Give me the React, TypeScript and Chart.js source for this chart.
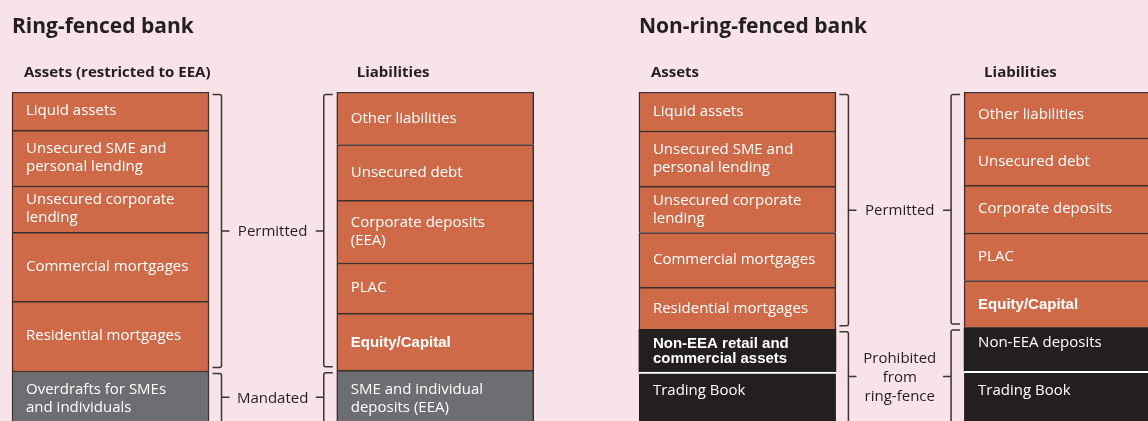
import React, { useEffect, useRef } from "react";
import { Chart, registerables } from "chart.js";

Chart.register(...registerables);

// ---------------- data ----------------
const bankTitles = ["Ring-fenced bank", "Non-ring-fenced bank"];
const columnHeaders = ["Assets (restricted to EEA)", "Liabilities", "Assets", "Liabilities"];

const rfAssetLabels = [
  "Liquid assets",
  "Unsecured SME and\npersonal lending",
  "Unsecured corporate\nlending",
  "Commercial mortgages",
  "Residential mortgages",
  "Overdrafts for SMEs\nand individuals",
];
const rfAssetValues = [38.3, 55.7, 46.3, 69, 69.7, 80];
const rfAssetKinds = ["P", "P", "P", "P", "P", "M"];

const rfLiabilityLabels = [
  "Other liabilities",
  "Unsecured debt",
  "Corporate deposits\n(EEA)",
  "PLAC",
  "Equity/Capital",
  "SME and individual\ndeposits (EEA)",
];
const rfLiabilityValues = [52.6, 55.7, 62.7, 50.3, 57, 80];
const rfLiabilityKinds = ["P", "P", "P", "P", "P", "M"];

const nrfAssetLabels = [
  "Liquid assets",
  "Unsecured SME and\npersonal lending",
  "Unsecured corporate\nlending",
  "Commercial mortgages",
  "Residential mortgages",
  "Non-EEA retail and\ncommercial assets",
  "Trading Book",
];
const nrfAssetValues = [39, 55.3, 46.3, 54.7, 42, 42.7, 80];
const nrfAssetKinds = ["P", "P", "P", "P", "P", "X", "X"];

const nrfLiabilityLabels = [
  "Other liabilities",
  "Unsecured debt",
  "Corporate deposits",
  "PLAC",
  "Equity/Capital",
  "Non-EEA deposits",
  "Trading Book",
];
const nrfLiabilityValues = [46, 47.3, 47.7, 47.6, 47, 43.7, 80];
const nrfLiabilityKinds = ["P", "P", "P", "P", "P", "X", "X"];

const kindNames: Record<string, string> = {
  P: "Permitted",
  M: "Mandated",
  X: "Prohibited\nfrom\nring-fence",
};
const boldLabels = ["Equity/Capital", "Non-EEA retail and\ncommercial assets"];
const topAnchoredLabels = ["Non-EEA deposits"];

// ---------------- layout / style ----------------
const W = 1148;
const H = 421;
const columnPositions = [0, 1.0008, 1.932, 2.934];
const isAssetColumn = [true, false, true, false];
const headerOffsets = [12, 20, 12, 20];
const BG = "#F8E4E8";
const ORANGE = "#CE6A48";
const GREY = "#6D6E71";
const BLACK = "#231F20";
const EDGE = "#3A2F2F";
const INK = "#231F20";
const SANS = '"Open Sans", "Noto Sans", sans-serif';
const BOLD_SANS = '"Liberation Sans", Arial, sans-serif';

const columns = [
  { labels: rfAssetLabels, values: rfAssetValues, kinds: rfAssetKinds },
  { labels: rfLiabilityLabels, values: rfLiabilityValues, kinds: rfLiabilityKinds },
  { labels: nrfAssetLabels, values: nrfAssetValues, kinds: nrfAssetKinds },
  { labels: nrfLiabilityLabels, values: nrfLiabilityValues, kinds: nrfLiabilityKinds },
];

const fillFor = (k: string) => (k === "P" ? ORANGE : k === "M" ? GREY : BLACK);

function segBounds(el: any) {
  const p = el.getProps(["x", "y", "base", "width"], true);
  return {
    left: p.x - p.width / 2,
    right: p.x + p.width / 2,
    top: Math.min(p.y, p.base),
    bottom: Math.max(p.y, p.base),
  };
}

const bgPlugin = {
  id: "bg",
  beforeDraw(chart: any) {
    const c = chart.ctx;
    c.save();
    c.fillStyle = BG;
    c.fillRect(0, 0, chart.width, chart.height);
    c.restore();
  },
};

const labelPlugin = {
  id: "segLabels",
  afterDatasetsDraw(chart: any) {
    const c = chart.ctx;
    const area = chart.chartArea;
    c.save();
    c.fillStyle = "#FFFFFF";
    c.textAlign = "left";
    c.textBaseline = "middle";
    columns.forEach((col, ci) => {
      const meta = chart.getDatasetMeta(ci);
      meta.data.forEach((el: any, i: number) => {
        const b = segBounds(el);
        const label = col.labels[i];
        const lines = label.split("\n");
        const bold = boldLabels.includes(label);
        const lh = bold ? 15 : 18;
        c.font = bold ? `bold 15px ${BOLD_SANS}` : `15px ${SANS}`;
        const cut = b.bottom > area.bottom + 1;
        let y0: number;
        if (cut) {
          y0 = b.top + 19;
        } else if (topAnchoredLabels.includes(label)) {
          y0 = b.top + 15;
        } else {
          const mid = (b.top + b.bottom) / 2 + (bold ? 1 : 0);
          y0 = mid - ((lines.length - 1) * lh) / 2;
        }
        lines.forEach((ln, li) => c.fillText(ln, b.left + 14, y0 + li * lh));
      });
    });
    c.restore();
  },
};

function groupsOf(kinds: string[]) {
  const gs: { kind: string; from: number; to: number }[] = [];
  kinds.forEach((k, i) => {
    const last = gs[gs.length - 1];
    if (last && last.kind === k) last.to = i;
    else gs.push({ kind: k, from: i, to: i });
  });
  return gs;
}

const bracketPlugin = {
  id: "brackets",
  afterDraw(chart: any) {
    const c = chart.ctx;
    const area = chart.chartArea;
    c.save();
    // titles and headers
    c.fillStyle = INK;
    c.textBaseline = "middle";
    c.textAlign = "left";
    columns.forEach((col, ci) => {
      const el = chart.getDatasetMeta(ci).data[0];
      const b = segBounds(el);
      if (isAssetColumn[ci]) {
        c.font = `bold 21px ${SANS}`;
        c.fillText(bankTitles[ci / 2], b.left, 27);
      }
      c.font = `bold 15px ${SANS}`;
      c.fillText(columnHeaders[ci], b.left + headerOffsets[ci], 73);
    });

    c.strokeStyle = "#3A3536";
    c.lineWidth = 1.5;
    for (let pi = 0; pi < 2; pi++) {
      const ai = pi * 2;
      const li = ai + 1;
      const aMeta = chart.getDatasetMeta(ai).data;
      const lMeta = chart.getDatasetMeta(li).data;
      const aGroups = groupsOf(columns[ai].kinds);
      const lGroups = groupsOf(columns[li].kinds);
      aGroups.forEach((g, gi) => {
        const lg = lGroups[gi];
        const aTop = segBounds(aMeta[g.from]).top + 2.5;
        const aBot = segBounds(aMeta[g.to]).bottom - 3.5;
        const bx = segBounds(aMeta[g.from]).right + 12.5;
        const lTop = segBounds(lMeta[lg.from]).top + 2.5;
        const lBot = segBounds(lMeta[lg.to]).bottom - 3.5;
        const lx = segBounds(lMeta[lg.from]).left - 13;
        const mid = (aTop + Math.min(aBot, area.bottom)) / 2;

        // asset bracket  ]
        c.beginPath();
        c.moveTo(bx - 9, aTop);
        c.lineTo(bx - 2, aTop);
        c.quadraticCurveTo(bx, aTop, bx, aTop + 2);
        c.lineTo(bx, aBot - 2);
        c.quadraticCurveTo(bx, aBot, bx - 2, aBot);
        c.lineTo(bx - 9, aBot);
        c.moveTo(bx, mid);
        c.lineTo(bx + 8, mid);
        c.stroke();

        // liability bracket [
        c.beginPath();
        c.moveTo(lx + 9, lTop);
        c.lineTo(lx + 2, lTop);
        c.quadraticCurveTo(lx, lTop, lx, lTop + 2);
        c.lineTo(lx, lBot - 2);
        c.quadraticCurveTo(lx, lBot, lx + 2, lBot);
        c.lineTo(lx + 9, lBot);
        c.moveTo(lx, mid);
        c.lineTo(lx - 8, mid);
        c.stroke();

        // group label
        c.font = `15px ${SANS}`;
        c.textAlign = "center";
        const lines = kindNames[g.kind].split("\n");
        const lh = 19;
        const y0 = mid - ((lines.length - 1) * lh) / 2 + 1;
        lines.forEach((ln, k) => c.fillText(ln, (bx + lx) / 2, y0 + k * lh));
      });
    }
    c.restore();
  },
};

export default function App() {
  const ref = useRef<HTMLCanvasElement>(null);
  useEffect(() => {
    if (!ref.current) return;
    const px0 = 110.5;
    const unit = 324.5;
    const chart = new Chart(ref.current, {
      type: "bar",
      data: {
        datasets: columns.map((col, ci) => {
          let acc = 0;
          const data = col.values.map((v) => {
            const d = { x: columnPositions[ci], y: [acc, acc + v] };
            acc += v;
            return d;
          });
          return {
            label: columnHeaders[ci],
            data,
            grouped: false,
            barThickness: 197,
            borderSkipped: false,
            clip: 0,
            backgroundColor: (ctx: any) => fillFor(col.kinds[ctx.dataIndex]),
            borderColor: (ctx: any) => {
              const k = col.kinds[ctx.dataIndex];
              const prev = col.kinds[ctx.dataIndex - 1];
              if (k === "X") return prev === "X" ? "#FFFFFF" : BLACK;
              return EDGE;
            },
            borderWidth: (ctx: any) => {
              const k = col.kinds[ctx.dataIndex];
              const prev = col.kinds[ctx.dataIndex - 1];
              if (k === "X") {
                return prev === "X"
                  ? { top: 2, left: 0, right: 0, bottom: 0 }
                  : { top: 0, left: 0, right: 0, bottom: 0 };
              }
              return { top: 1.5, left: 1.5, right: 1.5, bottom: 0 };
            },
          } as any;
        }),
      },
      options: {
        animation: false,
        responsive: false,
        events: [],
        layout: { padding: { top: 92, left: 0, right: 0, bottom: 0 } },
        plugins: { legend: { display: false }, tooltip: { enabled: false } },
        scales: {
          x: {
            type: "linear",
            display: false,
            offset: false,
            min: -px0 / unit,
            max: (W - px0) / unit,
          },
          y: {
            type: "linear",
            display: false,
            reverse: true,
            min: 0,
            max: 329,
          },
        },
      },
      plugins: [bgPlugin, labelPlugin, bracketPlugin],
    });
    const fonts = (document as any).fonts;
    if (fonts && fonts.load) {
      Promise.all([
        fonts.load(`15px "Open Sans"`),
        fonts.load(`bold 15px "Open Sans"`),
        fonts.load(`bold 15px "Liberation Sans"`),
      ])
        .then(() => chart.update())
        .catch(() => {});
    }
    return () => chart.destroy();
  }, []);
  return (
    <div style={{ position: "absolute", left: 0, top: 0, width: W, height: H, background: BG }}>
      <canvas ref={ref} width={W} height={H} style={{ width: W, height: H, display: "block" }} />
    </div>
  );
}
